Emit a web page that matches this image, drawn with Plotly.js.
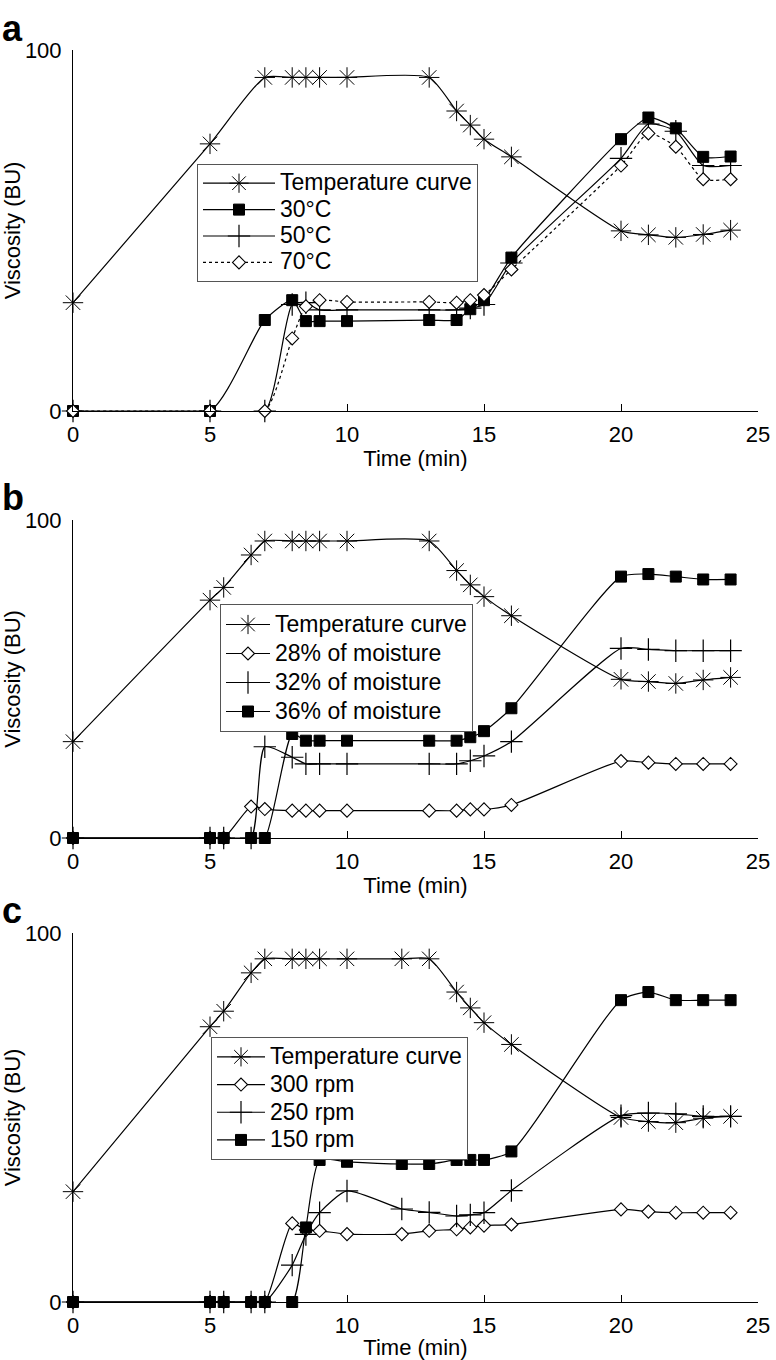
<!DOCTYPE html>
<html>
<head>
<meta charset="utf-8">
<script src="https://cdn.plot.ly/plotly-3.0.1.min.js"></script>
<style>html,body{margin:0;padding:0;background:#fff;}#chart{width:776px;height:1360px;}</style>
</head>
<body>
<div id="chart"></div>
<script>
// ---------- Panel a : effect of temperature ----------
const timeA = [0, 5, 7, 8, 8.5, 9, 10, 13, 14, 14.5, 15, 16, 20, 21, 22, 23, 24];
const tempCurveA = [30, 74, 92.4, 92.4, 92.4, 92.4, 92.4, 92.4, 83.1, 79.2, 75.3, 70.4, 49.9, 48.8, 48.1, 48.9, 50.1];
const visc30C = [0, 0, 25.2, 30.7, 24.9, 24.9, 24.9, 25.2, 25.2, 28.2, 30.7, 42.5, 75.3, 81.3, 78.3, 70.4, 70.5];
const visc50C = [0, 0, 0, 29.5, 30, 28, 28, 28, 28, 28.5, 29.5, 41, 70, 79.5, 77.5, 68, 68];
const visc70C = [0, 0, 0, 20.1, 29, 30.7, 30.2, 30.2, 30, 30.7, 32.1, 39.2, 68, 76.9, 73.2, 64.2, 64.2];
const namesA = ["Temperature curve", "30°C", "50°C", "70°C"];

// ---------- Panel b : effect of moisture ----------
const timeB = [0, 5, 5.5, 6.5, 7, 8, 8.5, 9, 10, 13, 14, 14.5, 15, 16, 20, 21, 22, 23, 24];
const tempCurveB = [30.3, 74.8, 78.8, 89.0, 93.4, 93.4, 93.4, 93.4, 93.4, 93.4, 84.1, 79.6, 75.9, 69.9, 49.9, 49.2, 48.6, 49.7, 50.5];
const moist28 = [0, 0, 0, 9.9, 9.1, 8.6, 8.6, 8.6, 8.6, 8.6, 8.6, 9.0, 9.0, 10.4, 24.2, 23.7, 23.3, 23.3, 23.3];
const moist32 = [0, 0, 0, 0, 28.7, 25.4, 23.3, 23.3, 23.3, 23.3, 23.3, 24.3, 25.8, 30.3, 59.6, 59.3, 58.9, 58.9, 58.9];
const moist36 = [0, 0, 0, 0, 0, 32.7, 30.6, 30.6, 30.6, 30.6, 30.6, 31.7, 33.6, 40.8, 82.2, 83.0, 82.2, 81.3, 81.3];
const namesB = ["Temperature curve", "28% of moisture", "32% of moisture", "36% of moisture"];

// ---------- Panel c : effect of screw speed ----------
const timeC = [0, 5, 5.5, 6.5, 7, 8, 8.5, 9, 10, 12, 13, 14, 14.5, 15, 16, 20, 21, 22, 23, 24];
const tempCurveC = [29.9, 74.6, 78.8, 89.2, 93, 93, 93, 93, 93, 93, 93, 84, 79.7, 75.7, 69.8, 50, 48.9, 48.6, 49.8, 50.3];
const rpm300 = [0, 0, 0, 0, 0, 21.3, 19.5, 19.3, 18.4, 18.4, 19.3, 19.7, 20.2, 20.7, 21.0, 25.1, 24.5, 24.2, 24.2, 24.2];
const rpm250 = [0, 0, 0, 0, 0, 10.0, 18.3, 24.2, 30.1, 25.2, 24.3, 23.3, 23.6, 24.2, 30.2, 50.5, 51.2, 51.0, 50.3, 50.3];
const rpm150 = [0, 0, 0, 0, 0, 0, 20.2, 38.5, 38.0, 37.4, 37.4, 38.5, 38.5, 38.5, 40.8, 81.8, 84.0, 81.8, 81.8, 81.8];
const namesC = ["Temperature curve", "300 rpm", "250 rpm", "150 rpm"];

const xTicks = [0, 5, 10, 15, 20, 25];
const yTicks = [0, 100];
const panelLabels = ["a", "b", "c"];

// ---------- styles ----------
const LW = 1.2;
const styles = {
  star:    {symbol: 'asterisk-open', size: 17, color: 'black', line: {color: 'black', width: 1}},
  square:  {symbol: 'square', size: 11, color: 'black', line: {color: 'black', width: 1}},
  cross:   {symbol: 'cross-thin-open', size: 16, color: 'black', line: {color: 'black', width: 1.2}},
  diamond: {symbol: 'diamond', size: 10, color: 'white', line: {color: 'black', width: 1.1}}
};

function tr(x, y, name, style, xa, ya, leg, dash) {
  return {
    type: 'scatter', mode: 'lines+markers', x: x, y: y,
    name: '<span style="font-size:23px">' + name + '</span>',
    xaxis: xa, yaxis: ya, legend: leg, cliponaxis: false,
    line: {color: 'black', width: LW, shape: 'spline', smoothing: 0.6, dash: dash || 'solid'},
    marker: style
  };
}

const data = [
  tr(timeA, tempCurveA, namesA[0], styles.star, 'x', 'y', 'legend'),
  tr(timeA, visc30C, namesA[1], styles.square, 'x', 'y', 'legend'),
  tr(timeA, visc50C, namesA[2], styles.cross, 'x', 'y', 'legend'),
  tr(timeA, visc70C, namesA[3], styles.diamond, 'x', 'y', 'legend', 'dot'),

  tr(timeB, tempCurveB, namesB[0], styles.star, 'x2', 'y2', 'legend2'),
  tr(timeB, moist28, namesB[1], styles.diamond, 'x2', 'y2', 'legend2'),
  tr(timeB, moist32, namesB[2], styles.cross, 'x2', 'y2', 'legend2'),
  tr(timeB, moist36, namesB[3], styles.square, 'x2', 'y2', 'legend2'),

  tr(timeC, tempCurveC, namesC[0], styles.star, 'x3', 'y3', 'legend3'),
  tr(timeC, rpm300, namesC[1], styles.diamond, 'x3', 'y3', 'legend3'),
  tr(timeC, rpm250, namesC[2], styles.cross, 'x3', 'y3', 'legend3'),
  tr(timeC, rpm150, namesC[3], styles.square, 'x3', 'y3', 'legend3')
];

const FONT = 'Liberation Sans, Arial, Helvetica, sans-serif';
const W = 776, H = 1360;
const xDom = [73 / W, 758 / W];
function yDom(top, bottom) { return [1 - bottom / H, 1 - top / H]; }

function xAxis(anchor) {
  return {
    anchor: anchor, domain: xDom, range: [0, 25], tickvals: xTicks, ticktext: xTicks.map(String),
    ticks: 'inside', ticklen: 7, tickwidth: 1, tickcolor: 'black',
    showline: true, linecolor: 'black', linewidth: 1, showgrid: false, zeroline: false,
    ticklabelstandoff: 4, tickfont: {size: 22, family: FONT, color: 'black'},
    title: {text: 'Time (min)', standoff: 4, font: {size: 22, family: FONT, color: 'black'}},
    fixedrange: true
  };
}
function yAxis(anchor, dom) {
  return {
    anchor: anchor, domain: dom, range: [0, 100], tickvals: yTicks, ticktext: yTicks.map(String),
    ticks: 'inside', ticklen: 7, tickwidth: 1, tickcolor: 'black',
    showline: true, linecolor: 'black', linewidth: 1, showgrid: false, zeroline: false,
    ticklabelstandoff: 6, tickfont: {size: 22, family: FONT, color: 'black'},
    title: {text: 'Viscosity (BU)', standoff: 2, font: {size: 22, family: FONT, color: 'black'}},
    fixedrange: true
  };
}
function legend(left, top, itemw, fs) {
  return {
    x: left / W, y: 1 - top / H, xanchor: 'left', yanchor: 'top',
    bgcolor: 'white', bordercolor: '#555', borderwidth: 1,
    font: {size: fs, family: FONT, color: 'black'}, itemwidth: itemw, tracegroupgap: 0
  };
}

const layout = {
  width: W, height: H, margin: {l: 0, r: 0, t: 0, b: 0},
  paper_bgcolor: 'white', plot_bgcolor: 'white',
  font: {family: FONT, size: 22, color: 'black'},
  showlegend: true,
  xaxis: xAxis('y'), yaxis: yAxis('x', yDom(50, 411)),
  xaxis2: xAxis('y2'), yaxis2: yAxis('x2', yDom(520, 838)),
  xaxis3: xAxis('y3'), yaxis3: yAxis('x3', yDom(933, 1302)),
  legend: legend(197, 164, 72, 18),
  legend2: legend(220, 604, 44, 20),
  legend3: legend(211, 1037, 48, 19),
  annotations: [
    {text: '<b>' + panelLabels[0] + '</b>', xref: 'paper', yref: 'paper', x: 0, y: 1 - 28 / H, xanchor: 'left', yanchor: 'middle', showarrow: false, font: {size: 36, family: FONT, color: 'black'}},
    {text: '<b>' + panelLabels[1] + '</b>', xref: 'paper', yref: 'paper', x: 0, y: 1 - 497 / H, xanchor: 'left', yanchor: 'middle', showarrow: false, font: {size: 36, family: FONT, color: 'black'}},
    {text: '<b>' + panelLabels[2] + '</b>', xref: 'paper', yref: 'paper', x: 0, y: 1 - 911 / H, xanchor: 'left', yanchor: 'middle', showarrow: false, font: {size: 36, family: FONT, color: 'black'}}
  ]
};

Plotly.newPlot('chart', data, layout, {displayModeBar: false, staticPlot: true});
</script>
</body>
</html>
